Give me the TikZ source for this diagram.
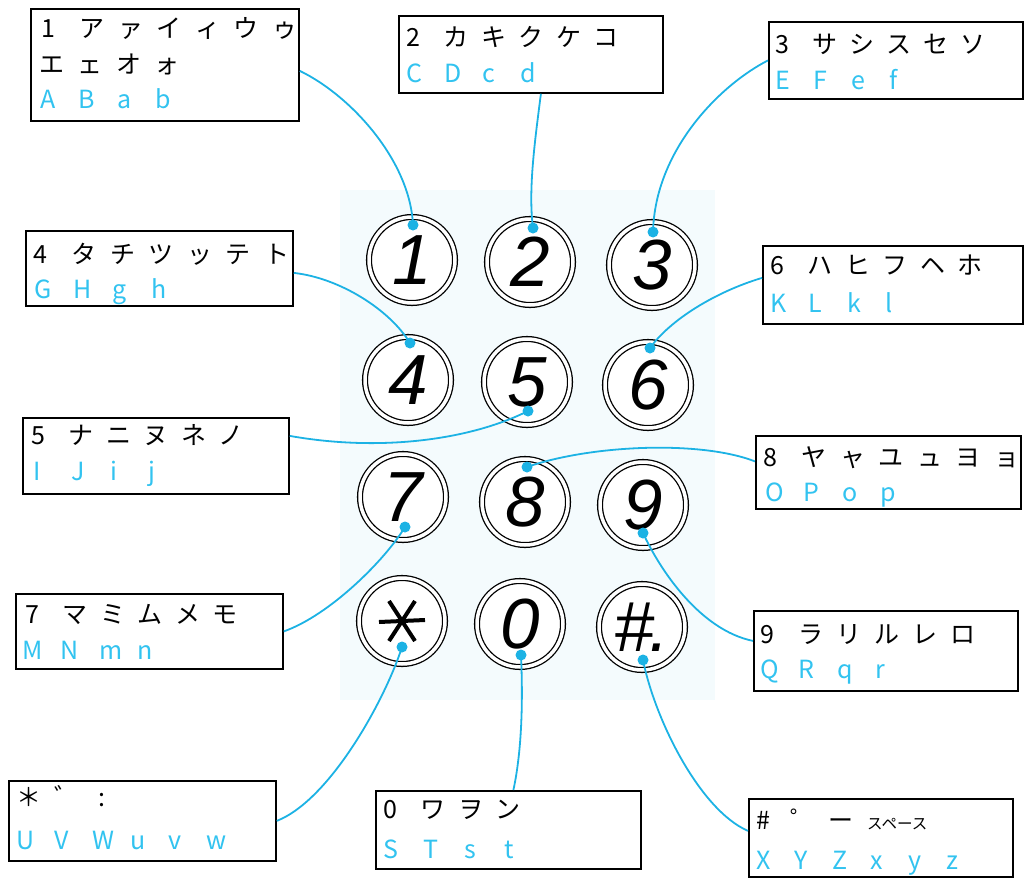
\documentclass[tikz,border=0pt]{standalone}
\usepackage{fontspec}
\setmainfont{Noto Sans CJK JP}
\newfontfamily\keyfont{Liberation Sans}
\usetikzlibrary{calc}
\definecolor{lc}{RGB}{28,178,228}
\definecolor{tc}{RGB}{50,195,240}
\definecolor{panel}{RGB}{244,251,253}
\newlength\cpitch
\def\tkrow#1{\ifx#1\relax\else\makebox[\cpitch][l]{#1}\expandafter\tkrow\fi}
\newcommand\krow[2]{\setlength\cpitch{#1}\tkrow#2\relax}
\tikzset{
 kbox/.style={draw=black, line width=1.8pt, anchor=north west, inner sep=0pt, fill=white},
 ln/.style={anchor=base west, inner sep=0pt, font=\fontsize{25}{28}\selectfont},
 bl/.style={ln, text=tc},
 key/.style={circle, draw=black, line width=1.3pt, double=white, double distance=3.5pt, fill=white, minimum size=86pt, inner sep=0pt, font=\keyfont\itshape\fontsize{71}{71}\selectfont},
 conn/.style={draw=lc, line width=1.8pt},
 dotc/.style={fill=lc}
}
\begin{document}
\begin{tikzpicture}[x=1pt,y=-1pt]
\useasboundingbox (0,0) rectangle (1025,878);
\fill[panel] (340,190) rectangle (715,700);
% boxes
\node[kbox, minimum width=268pt, minimum height=112pt] (B1) at (30,8) {};
\node[kbox, minimum width=264pt, minimum height=77pt] (B2) at (398,15) {};
\node[kbox, minimum width=254pt, minimum height=77pt] (B3) at (768,21) {};
\node[kbox, minimum width=267pt, minimum height=75pt] (B4) at (25,230) {};
\node[kbox, minimum width=260pt, minimum height=78pt] (B6) at (762,245) {};
\node[kbox, minimum width=266pt, minimum height=76pt] (B5) at (22,417) {};
\node[kbox, minimum width=265pt, minimum height=73pt] (B8) at (755,435) {};
\node[kbox, minimum width=267pt, minimum height=75pt] (B7) at (15,593) {};
\node[kbox, minimum width=264pt, minimum height=80pt] (B9) at (753,610) {};
\node[kbox, minimum width=267pt, minimum height=80pt] (Bs) at (8,780) {};
\node[kbox, minimum width=265pt, minimum height=78pt] (B0) at (375,790) {};
\node[kbox, minimum width=264pt, minimum height=78pt] (Bh) at (748,798) {};
% texts
\node[ln] (t1a) at (41,37) {\krow{38.5pt}{1アァイィウゥ}};
\node[ln] (t1b) at (39,73) {\krow{38.5pt}{エェオォ}};
\node[bl] (t1c) at (40,108) {\krow{38.5pt}{ABab}};
\node[ln] (t2a) at (406,46) {\krow{37.5pt}{2カキクケコ}};
\node[bl] (t2b) at (406,82) {\krow{38pt}{CDcd}};
\node[ln] (t3a) at (775,53) {\krow{37pt}{3サシスセソ}};
\node[bl] (t3b) at (775,89) {\krow{38pt}{EFef}};
\node[ln] (t4a) at (33,263) {\krow{38.5pt}{4タチツッテト}};
\node[bl] (t4b) at (34,298) {\krow{39pt}{GHgh}};
\node[ln] (t6a) at (770,274) {\krow{37.5pt}{6ハヒフヘホ}};
\node[bl] (t6b) at (770,312) {\krow{38.5pt}{KLkl}};
\node[ln] (t5a) at (31,444) {\krow{37.5pt}{5ナニヌネノ}};
\node[bl] (t5b) at (33,480) {\krow{38.5pt}{IJij}};
\node[ln] (t8a) at (763,466) {\krow{38.5pt}{8ヤャユュヨョ}};
\node[bl] (t8b) at (765,501) {\krow{38.5pt}{OPop}};
\node[ln] (t7a) at (25,623) {\krow{37.5pt}{7マミムメモ}};
\node[bl] (t7b) at (22,659) {\krow{38.5pt}{MNmn}};
\node[ln] (t9a) at (760,643) {\krow{38pt}{9ラリルレロ}};
\node[bl] (t9b) at (760,678) {\krow{38.5pt}{QRqr}};
\node[ln] (tsa) at (16,806) {\makebox[38pt][l]{＊}\makebox[44pt][l]{゛}:};
\node[bl] (tsb) at (16,849) {\krow{38pt}{UVWuvw}};
\node[ln] (t0a) at (383,818) {\krow{37.5pt}{0ワヲン}};
\node[bl] (t0b) at (383,858) {\krow{40.5pt}{STst}};
\node[ln] (tha) at (756,829) {\makebox[34pt][l]{\#}\makebox[38pt][l]{゜}\makebox[39pt][l]{ー}{\fontsize{15.5}{18}\selectfont スペース}};
\node[bl] (thb) at (756,869) {\krow{38pt}{XYZxyz}};
% keys
\node[key] (K1) at (412,260) {1};
\node[key] (K2) at (530,262) {2};
\node[key] (K3) at (652,265) {3};
\node[key] (K4) at (408,380) {4};
\node[key] (K5) at (527,382) {5};
\node[key] (K6) at (648,385) {6};
\node[key] (K7) at (403,497) {7};
\node[key] (K8) at (525,502) {8};
\node[key] (K9) at (643,505) {9};
\node[key] (Ks) at (402,621) {};
\node[key] (K0) at (520,624) {0};
\node[key] (Kh) at (642,627) {\#\kern-0.06em.};
\draw[line width=4pt] ([shift={(-23,1)}]Ks.center) -- ([shift={(23,-1)}]Ks.center);
\draw[line width=4pt] ([shift={(-13,-20)}]Ks.center) -- ([shift={(13,20)}]Ks.center);
\draw[line width=4pt] ([shift={(13,-20)}]Ks.center) -- ([shift={(-13,20)}]Ks.center);
% dots
\coordinate (d1) at ([shift={(1,-35)}]K1.center);
\coordinate (d2) at ([shift={(3,-34)}]K2.center);
\coordinate (d3) at ([shift={(1,-33)}]K3.center);
\coordinate (d4) at ([shift={(2,-37)}]K4.center);
\coordinate (d5) at ([shift={(1,29)}]K5.center);
\coordinate (d6) at ([shift={(2,-37)}]K6.center);
\coordinate (d7) at ([shift={(2,30)}]K7.center);
\coordinate (d8) at ([shift={(2,-35)}]K8.center);
\coordinate (d9) at ([shift={(0,28)}]K9.center);
\coordinate (ds) at ([shift={(0,26)}]Ks.center);
\coordinate (d0) at ([shift={(1,31)}]K0.center);
\coordinate (dh) at ([shift={(1,33)}]Kh.center);
% connectors
\draw[conn] ([yshift=-6pt]B1.east) .. controls (350,95) and (410,160) .. (d1);
\draw[conn] ([xshift=10pt]B2.south) .. controls (535,140) and (528,190) .. (d2);
\draw[conn] (B3.west) .. controls (720,85) and (655,150) .. (d3);
\draw[conn] ([yshift=-4.5pt]B4.east) .. controls (340,278) and (390,310) .. (d4);
\draw[conn] ([yshift=7pt]B6.west) .. controls (715,292) and (670,320) .. (d6);
\draw[conn] ([yshift=20pt]B5.east) .. controls (380,452) and (470,440) .. (d5);
\draw[conn] ([yshift=11pt]B8.west) .. controls (700,440) and (590,445) .. (d8);
\draw[conn] (B7.east) .. controls (330,615) and (385,560) .. (d7);
\draw[conn] ([yshift=10pt]B9.west) .. controls (700,630) and (660,570) .. (d9);
\draw[conn] (Bs.east) .. controls (330,800) and (385,700) .. (ds);
\draw[conn] ([xshift=5pt]B0.north) .. controls (522,750) and (523,700) .. (d0);
\draw[conn] ([yshift=7pt]Bh.west) .. controls (700,810) and (655,720) .. (dh);
\foreach \d in {d1,d2,d3,d4,d5,d6,d7,d8,d9,ds,d0,dh} \fill[dotc] (\d) circle (5.5pt);
\end{tikzpicture}
\end{document}
